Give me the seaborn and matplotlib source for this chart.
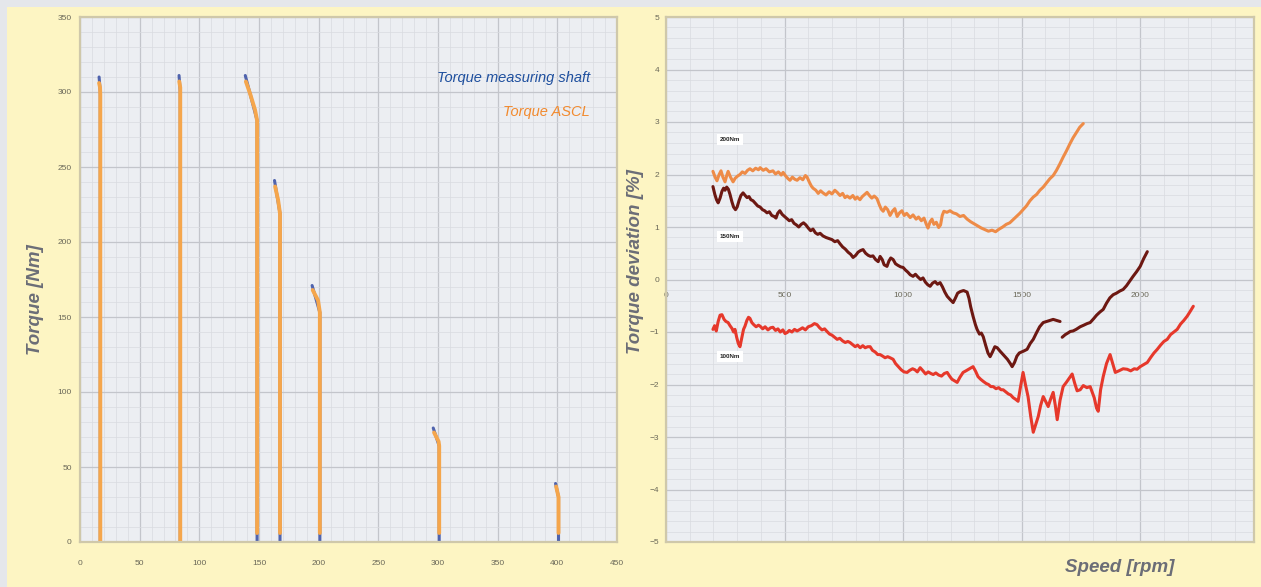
import numpy as np
import pandas as pd
import seaborn as sns
import matplotlib.pyplot as plt
from matplotlib.patches import Rectangle
from matplotlib.ticker import MultipleLocator, AutoMinorLocator

# ---- left panel: torque vs speed steps (speed, torque) ----
# ASCL trace of every speed step, top of the step first
ascl_speed = [
    [16.0, 16.8, 17.0, 17.0],
    [83.2, 84.0, 84.0, 84.0],
    [139.0, 142.5, 146.7, 148.4, 148.4],
    [163.5, 166.0, 167.6, 167.6],
    [195.0, 199.5, 201.0, 201.0],
    [296.7, 300.5, 301.0, 301.0],
    [399.0, 401.0, 401.0],
]
ascl_torque = [
    [306, 303, 298, 0],
    [307, 303, 298, 0],
    [307, 299, 288, 281, 6],
    [237, 228, 219, 6],
    [168, 161, 153, 6],
    [73, 67, 64, 6],
    [37, 30, 6],
]
# measuring shaft trace (mostly hidden under ASCL)
shaft_speed = [
    [16.0, 17.0, 17.0],
    [83.0, 84.0, 84.0],
    [138.5, 148.4, 148.4],
    [163.0, 167.6, 167.6],
    [194.5, 201.0, 201.0],
    [296.0, 301.0, 301.0],
    [398.5, 401.0, 401.0],
]
shaft_torque = [
    [310, 300, 0],
    [311, 300, 0],
    [311, 281, 0],
    [241, 219, 0],
    [171, 153, 0],
    [76, 64, 0],
    [39, 30, 0],
]

# ---- right panel: torque deviation [%] vs speed [rpm] ----
rpm_200 = [198, 207, 215, 224, 232, 240, 249, 256, 262, 272, 283, 292, 302, 312, 322, 333, 344, 354,
           366, 378, 390, 397, 410, 422, 436, 451, 462, 474, 486, 494, 505, 515, 523, 533, 543, 553,
           565, 577, 588, 595, 605, 613, 620, 632, 642, 652, 662, 675, 688, 700, 712, 722, 734, 745,
           755, 764, 776, 788, 798, 806, 818, 828, 838, 848, 858, 868, 878, 890, 900, 908, 916, 925,
           935, 945, 955, 965, 975, 985, 995, 1005, 1015, 1030, 1042, 1055, 1065, 1077, 1088, 1098,
           1105, 1114, 1122, 1130, 1140, 1150, 1158, 1165, 1172, 1185, 1198, 1211, 1225, 1240, 1255,
           1270, 1285, 1300, 1315, 1330, 1345, 1360, 1375, 1390, 1405, 1420, 1435, 1450, 1464, 1478,
           1492, 1506, 1520, 1535, 1549, 1563, 1577, 1591, 1605, 1619, 1633, 1647, 1661, 1675, 1689,
           1703, 1717, 1731, 1745, 1760]
dev_200 = [2.06, 1.95, 1.88, 2.00, 2.07, 1.95, 1.86, 1.98, 2.06, 1.95, 1.86, 1.93, 1.97, 2.00, 2.05,
           2.02, 2.08, 2.11, 2.07, 2.12, 2.09, 2.13, 2.08, 2.11, 2.05, 2.07, 2.01, 2.05, 1.99, 2.04,
           1.97, 1.92, 1.89, 1.95, 1.91, 1.89, 1.94, 1.90, 1.98, 1.95, 1.85, 1.78, 1.74, 1.70, 1.64,
           1.69, 1.65, 1.61, 1.67, 1.63, 1.70, 1.66, 1.60, 1.64, 1.56, 1.59, 1.55, 1.60, 1.53, 1.57,
           1.52, 1.58, 1.62, 1.66, 1.60, 1.55, 1.59, 1.54, 1.42, 1.34, 1.30, 1.38, 1.33, 1.22, 1.30,
           1.35, 1.20, 1.27, 1.31, 1.22, 1.26, 1.18, 1.23, 1.15, 1.19, 1.12, 1.17, 1.05, 0.98, 1.10,
           1.15, 1.05, 1.09, 0.99, 1.04, 1.22, 1.30, 1.28, 1.31, 1.27, 1.25, 1.20, 1.22, 1.15, 1.10,
           1.06, 1.02, 0.98, 0.95, 0.92, 0.94, 0.91, 0.96, 1.00, 1.05, 1.08, 1.14, 1.20, 1.26, 1.33,
           1.40, 1.50, 1.57, 1.62, 1.70, 1.76, 1.84, 1.92, 1.98, 2.08, 2.20, 2.33, 2.45, 2.58, 2.70,
           2.80, 2.90, 2.97]

rpm_150_a = [198, 206, 213, 220, 228, 236, 243, 249, 256, 263, 270, 278, 285, 293, 300, 308, 316, 325,
             334, 342, 350, 358, 367, 377, 387, 397, 407, 416, 426, 436, 446, 456, 464, 471, 480, 490,
             500, 510, 520, 530, 540, 550, 560, 570, 580, 590, 600, 610, 620, 630, 640, 650, 662, 675,
             688, 700, 712, 724, 734, 745, 756, 768, 779, 789, 800, 810, 820, 831, 842, 853, 863, 873,
             884, 895, 903, 912, 920, 932, 940, 948, 958, 968, 978, 990, 1000, 1010, 1020, 1030, 1042,
             1052, 1062, 1074, 1084, 1094, 1104, 1114, 1124, 1135, 1145, 1156, 1166, 1176, 1186, 1198,
             1211, 1220, 1230, 1241, 1255, 1270, 1278, 1285, 1295, 1305, 1312, 1322, 1330, 1338, 1348,
             1358, 1367, 1377, 1387, 1397, 1408, 1416, 1428, 1440, 1452, 1460, 1470, 1480, 1490, 1500,
             1510, 1523, 1536, 1549, 1562, 1576, 1591, 1605, 1620, 1633, 1647, 1662]
dev_150_a = [1.77, 1.62, 1.52, 1.46, 1.55, 1.68, 1.74, 1.70, 1.76, 1.72, 1.62, 1.48, 1.38, 1.33, 1.38,
             1.50, 1.60, 1.65, 1.60, 1.56, 1.58, 1.52, 1.50, 1.45, 1.40, 1.38, 1.33, 1.31, 1.27, 1.29,
             1.22, 1.20, 1.17, 1.26, 1.31, 1.24, 1.20, 1.16, 1.12, 1.14, 1.07, 1.04, 1.00, 1.05, 1.08,
             1.04, 0.98, 0.93, 0.96, 0.89, 0.86, 0.88, 0.83, 0.80, 0.78, 0.76, 0.72, 0.74, 0.68, 0.62,
             0.58, 0.52, 0.48, 0.42, 0.46, 0.52, 0.55, 0.57, 0.50, 0.46, 0.44, 0.45, 0.38, 0.34, 0.44,
             0.38, 0.28, 0.25, 0.35, 0.41, 0.38, 0.30, 0.27, 0.24, 0.23, 0.18, 0.14, 0.09, 0.06, 0.10,
             0.05, 0.00, 0.03, -0.05, -0.10, -0.13, -0.07, -0.04, -0.09, -0.06, -0.14, -0.24, -0.32,
             -0.38, -0.44, -0.36, -0.26, -0.23, -0.21, -0.24, -0.36, -0.52, -0.70, -0.86, -0.95, -1.04,
             -1.02, -1.09, -1.25, -1.40, -1.47, -1.38, -1.28, -1.30, -1.36, -1.40, -1.46, -1.52, -1.60,
             -1.66, -1.58, -1.46, -1.40, -1.38, -1.36, -1.33, -1.22, -1.14, -1.02, -0.90, -0.82, -0.80,
             -0.78, -0.76, -0.78, -0.80]
rpm_150_b = [1671, 1684, 1695, 1705, 1717, 1730, 1747, 1762, 1776, 1789, 1803, 1816, 1830, 1844, 1858,
             1872, 1886, 1900, 1914, 1928, 1942, 1956, 1970, 1985, 2000, 2015, 2030]
dev_150_b = [-1.10, -1.05, -1.02, -0.99, -0.98, -0.95, -0.90, -0.87, -0.84, -0.82, -0.75, -0.68, -0.62,
             -0.57, -0.45, -0.35, -0.29, -0.26, -0.22, -0.19, -0.12, -0.03, 0.06, 0.15, 0.25, 0.40, 0.53]

rpm_100 = [198, 205, 212, 220, 228, 236, 245, 253, 262, 270, 278, 285, 291, 298, 305, 312, 320, 327, 333,
           341, 348, 354, 362, 370, 380, 390, 397, 408, 418, 430, 441, 451, 462, 472, 482, 493, 502, 511,
           520, 531, 542, 553, 565, 576, 588, 600, 613, 626, 637, 648, 658, 669, 679, 690, 700, 711, 722,
           733, 745, 756, 767, 776, 787, 798, 808, 819, 830, 840, 851, 861, 871, 882, 893, 903, 914, 924,
           935, 945, 958, 968, 980, 992, 1004, 1017, 1028, 1040, 1050, 1060, 1072, 1084, 1095, 1106,
           1117, 1127, 1138, 1150, 1162, 1174, 1186, 1196, 1206, 1217, 1228, 1240, 1253, 1265, 1280,
           1295, 1306, 1316, 1327, 1338, 1350, 1360, 1370, 1380, 1392, 1403, 1413, 1422, 1433, 1444,
           1454, 1464, 1474, 1485, 1495, 1506, 1516, 1527, 1538, 1549, 1560, 1570, 1580, 1591, 1601,
           1612, 1622, 1633, 1642, 1650, 1662, 1675, 1690, 1705, 1713, 1724, 1734, 1747, 1760, 1775,
           1789, 1806, 1816, 1823, 1833, 1844, 1858, 1873, 1884, 1895, 1910, 1928, 1945, 1960, 1975,
           1987, 2000, 2015, 2030, 2045, 2058, 2072, 2086, 2100, 2114, 2128, 2142, 2156, 2170, 2184,
           2198, 2212, 2224]
dev_100 = [-0.95, -0.88, -0.98, -0.80, -0.68, -0.67, -0.76, -0.80, -0.82, -0.88, -0.93, -1.00, -0.95,
           -1.10, -1.22, -1.28, -1.10, -0.95, -0.89, -0.78, -0.72, -0.74, -0.82, -0.86, -0.90, -0.87,
           -0.89, -0.94, -0.90, -0.96, -0.92, -0.91, -0.97, -0.94, -1.00, -0.96, -1.03, -1.01, -0.97,
           -1.00, -0.95, -0.98, -0.95, -0.92, -0.96, -0.90, -0.88, -0.84, -0.86, -0.92, -0.96, -0.94,
           -0.99, -1.04, -1.06, -1.10, -1.14, -1.12, -1.17, -1.20, -1.18, -1.20, -1.24, -1.28, -1.25,
           -1.30, -1.26, -1.30, -1.28, -1.28, -1.35, -1.38, -1.43, -1.43, -1.46, -1.49, -1.47, -1.49,
           -1.52, -1.60, -1.66, -1.72, -1.76, -1.77, -1.73, -1.70, -1.72, -1.76, -1.68, -1.74, -1.80,
           -1.76, -1.79, -1.81, -1.78, -1.82, -1.84, -1.79, -1.77, -1.84, -1.90, -1.93, -1.96, -1.86,
           -1.77, -1.74, -1.70, -1.66, -1.75, -1.85, -1.90, -1.94, -1.98, -2.00, -2.04, -2.04, -2.08,
           -2.06, -2.10, -2.10, -2.14, -2.18, -2.20, -2.25, -2.28, -2.32, -2.05, -1.77, -2.00, -2.23,
           -2.60, -2.91, -2.75, -2.61, -2.40, -2.23, -2.32, -2.42, -2.28, -2.15, -2.40, -2.67, -2.30,
           -2.04, -1.95, -1.85, -1.80, -1.98, -2.12, -2.10, -2.02, -2.06, -2.04, -2.25, -2.45, -2.51,
           -2.10, -1.85, -1.60, -1.43, -1.60, -1.77, -1.74, -1.70, -1.71, -1.74, -1.70, -1.71, -1.66,
           -1.62, -1.58, -1.48, -1.40, -1.33, -1.25, -1.18, -1.14, -1.05, -1.00, -0.95, -0.85, -0.78,
           -0.70, -0.60, -0.51]

curve_labels = ['200Nm', '150Nm', '100Nm']
label_pos_rpm = [270, 270, 270]
label_pos_dev = [2.67, 0.82, -1.47]

LEFT_XTICKS = list(range(0, 451, 50))
LEFT_YTICKS = list(range(0, 351, 50))
RIGHT_XTICKS = [0, 500, 1000, 1500, 2000]
RIGHT_YTICKS = list(range(-5, 6))

ORANGE = '#f5a64c'
BLUE = '#4f63ad'
C200 = '#ee8b47'
C150 = '#6d1812'
C100 = '#e6382b'
LABEL_GREY = '#6b6d77'
TICK_GREY = '#6a6858'
PLOT_BG = '#eceef2'
SPINE = '#cfc8aa'


def _steps_df(speeds, torques):
    rows = []
    for i, (xs, ys) in enumerate(zip(speeds, torques)):
        for x, y in zip(xs, ys):
            rows.append({'step': i, 'speed': x, 'torque': y})
    return pd.DataFrame(rows)


def _style_axes(ax):
    ax.set_facecolor(PLOT_BG)
    ax.xaxis.set_minor_locator(AutoMinorLocator(5))
    ax.yaxis.set_minor_locator(AutoMinorLocator(5))
    ax.grid(which='major', color='#c3c5cb', lw=0.9)
    ax.grid(which='minor', color='#d9dbe0', lw=0.5)
    ax.set_axisbelow(True)
    for sp in ax.spines.values():
        sp.set_color(SPINE)
        sp.set_linewidth(1.6)
    ax.tick_params(which='both', length=0, labelsize=6, labelcolor=TICK_GREY)
    ax.set_xlabel('')
    ax.set_ylabel('')


sns.set_style('white')
plt.rcParams['font.family'] = ['Liberation Sans', 'DejaVu Sans']

fig = plt.figure(figsize=(12.61, 5.87), dpi=100, facecolor='#e5e7eb')
fig.add_artist(Rectangle((7 / 1261, 0), 1, 580 / 587, transform=fig.transFigure,
                         facecolor='#fdf5c3', edgecolor='none', zorder=-10))

# left panel
ax1 = fig.add_axes([80 / 1261, 45 / 587, 537 / 1261, 525 / 587])
shaft_df = _steps_df(shaft_speed, shaft_torque)
ascl_df = _steps_df(ascl_speed, ascl_torque)
sns.lineplot(data=shaft_df, x='speed', y='torque', units='step', estimator=None, sort=False,
             color=BLUE, lw=2.2, ax=ax1)
sns.lineplot(data=ascl_df, x='speed', y='torque', units='step', estimator=None, sort=False,
             color=ORANGE, lw=2.8, ax=ax1)
ax1.set_xlim(0, 450)
ax1.set_ylim(0, 350)
ax1.set_xticks(LEFT_XTICKS)
ax1.set_yticks(LEFT_YTICKS)
_style_axes(ax1)
ax1.tick_params(axis='x', pad=13)
ax1.tick_params(axis='y', pad=6)
ax1.text(0.95, 0.884, 'Torque measuring shaft', transform=ax1.transAxes, ha='right', va='center',
         color='#1e4f9e', fontsize=10.5, style='italic')
ax1.text(0.95, 0.819, 'Torque ASCL', transform=ax1.transAxes, ha='right', va='center',
         color='#f28a2e', fontsize=10.5, style='italic')

# right panel
ax2 = fig.add_axes([666 / 1261, 45 / 587, 588 / 1261, 525 / 587])
sns.lineplot(x=rpm_200, y=dev_200, sort=False, color=C200, lw=2.2, ax=ax2)
sns.lineplot(x=rpm_150_a, y=dev_150_a, sort=False, color=C150, lw=2.2, ax=ax2)
sns.lineplot(x=rpm_150_b, y=dev_150_b, sort=False, color=C150, lw=2.2, ax=ax2)
sns.lineplot(x=rpm_100, y=dev_100, sort=False, color=C100, lw=2.2, ax=ax2)
ax2.set_xlim(0, 2480)
ax2.set_ylim(-5, 5)
ax2.xaxis.set_major_locator(MultipleLocator(500))
ax2.set_yticks(RIGHT_YTICKS)
_style_axes(ax2)
ax2.tick_params(axis='x', labelbottom=False)
ax2.tick_params(axis='y', pad=5)
sec = ax2.secondary_xaxis(0.4999)
sec.set_xticks(RIGHT_XTICKS)
sec.tick_params(length=0, pad=9, labelsize=6, labelcolor=TICK_GREY)
for sp in sec.spines.values():
    sp.set_visible(False)
for txt, xr, yd in zip(curve_labels, label_pos_rpm, label_pos_dev):
    ax2.text(xr, yd, txt, ha='center', va='center', fontsize=4.5, fontweight='bold', color='#222222',
             bbox=dict(facecolor='white', edgecolor='none', pad=2.0))

# axis titles
lab = dict(color=LABEL_GREY, fontsize=13.5, fontweight='bold', style='italic')
fig.text(35 / 1261, 287 / 587, 'Torque [Nm]', rotation=90, ha='center', va='center', **lab)
fig.text(635 / 1261, 325 / 587, 'Torque deviation [%]', rotation=90, ha='center', va='center', **lab)
fig.text(1120 / 1261, 20 / 587, 'Speed [rpm]', ha='center', va='center', **lab)

fig.savefig('out.png', dpi=100, facecolor=fig.get_facecolor())
